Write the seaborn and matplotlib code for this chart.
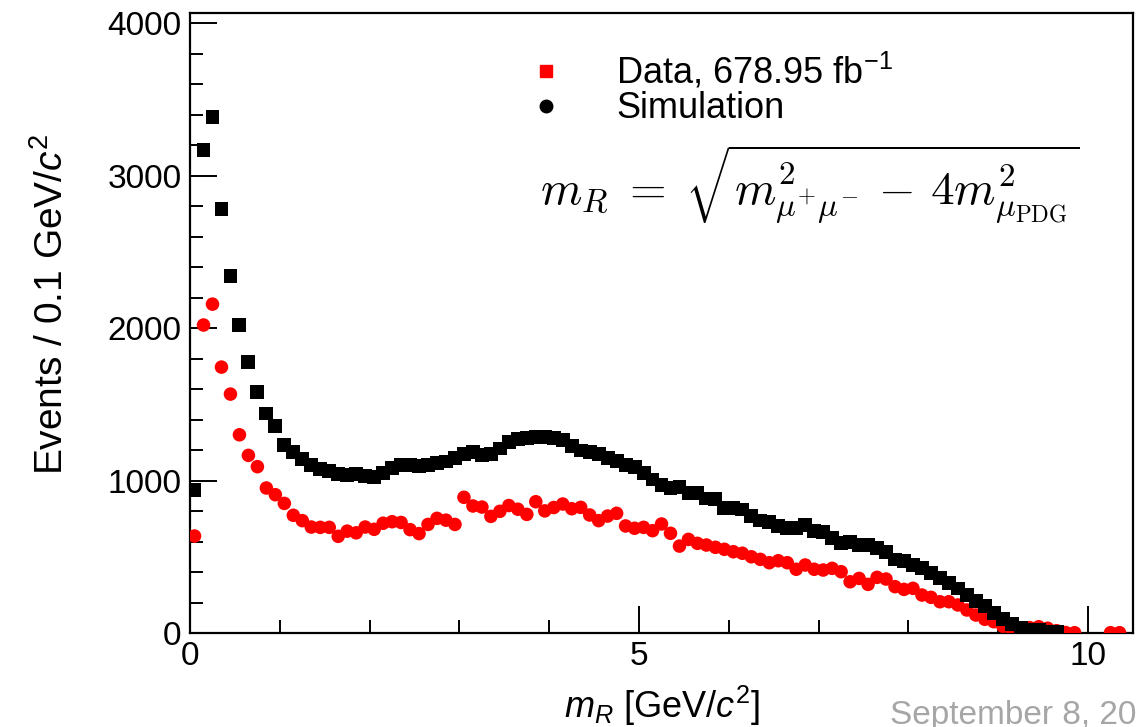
import numpy as np
import pandas as pd
import matplotlib
matplotlib.use("Agg")
import matplotlib.pyplot as plt
from matplotlib.lines import Line2D
from matplotlib.ticker import MultipleLocator
import seaborn as sns

nan = np.nan

# ---------------- data ----------------
sim_centers = [0.05, 0.15, 0.25, 0.35, 0.45, 0.55, 0.65, 0.75, 0.85, 0.95,
               1.05, 1.15, 1.25, 1.35, 1.45, 1.55, 1.65, 1.75, 1.85, 1.95,
               2.05, 2.15, 2.25, 2.35, 2.45, 2.55, 2.65, 2.75, 2.85, 2.95,
               3.05, 3.15, 3.25, 3.35, 3.45, 3.55, 3.65, 3.75, 3.85, 3.95,
               4.05, 4.15, 4.25, 4.35, 4.45, 4.55, 4.65, 4.75, 4.85, 4.95,
               5.05, 5.15, 5.25, 5.35, 5.45, 5.55, 5.65, 5.75, 5.85, 5.95,
               6.05, 6.15, 6.25, 6.35, 6.45, 6.55, 6.65, 6.75, 6.85, 6.95,
               7.05, 7.15, 7.25, 7.35, 7.45, 7.55, 7.65, 7.75, 7.85, 7.95,
               8.05, 8.15, 8.25, 8.35, 8.45, 8.55, 8.65, 8.75, 8.85, 8.95,
               9.05, 9.15, 9.25, 9.35, 9.45, 9.55, 9.65]

sim_events = [940, 3170, 3385, 2780, 2340, 2020, 1775, 1580, 1440, 1360,
              1235, 1185, 1140, 1100, 1075, 1060, 1040, 1035, 1040, 1030,
              1025, 1050, 1080, 1100, 1100, 1095, 1100, 1115, 1125, 1150,
              1175, 1185, 1165, 1175, 1210, 1255, 1275, 1278, 1285, 1285,
              1278, 1265, 1225, 1197, 1188, 1175, 1150, 1130, 1100, 1090,
              1050, 1007, 970, 952, 956, 920, 918, 882, 880, 822,
              820, 810, 766, 738, 729, 700, 690, 690, 711, 670,
              663, 624, 591, 598, 580, 577, 558, 532, 482, 475,
              445, 427, 395, 362, 329, 292, 252, 209, 176, 132,
              89, 60, 34, 19, 18, 5, 4]

data_centers = sim_centers + [9.75, 9.85, 9.95, 10.05, 10.15, 10.25, 10.35]

data_events = [636, 2020, 2157, 1744, 1567, 1300, 1165, 1091, 951, 907,
               850, 772, 737, 695, 693, 693, 634, 668, 657, 695,
               680, 720, 730, 725, 678, 652, 712, 752, 740, 712,
               890, 833, 826, 765, 798, 836, 812, 778, 861, 801,
               823, 846, 815, 824, 774, 737, 767, 785, 702, 687,
               693, 671, 715, 654, 570, 614, 588, 577, 562, 549,
               533, 523, 500, 483, 461, 474, 461, 418, 446, 418,
               413, 424, 402, 336, 358, 319, 365, 354, 304, 286,
               293, 249, 234, 205, 205, 184, 151, 118, 90, 74,
               45, 20, 30, 35, 41, 31, 15, 3, 2, nan, nan, nan, 2, 2]

legend_labels = ["Data, 678.95 fb$^{-1}$", "Simulation"]
x_ticks = [0, 5, 10]
y_ticks = [0, 1000, 2000, 3000, 4000]

df_sim = pd.DataFrame({"m_R": sim_centers, "events": sim_events})
df_data = pd.DataFrame({"m_R": data_centers, "events": data_events}).dropna()

# ---------------- style ----------------
sns.set_style("ticks")
plt.rcParams["font.family"] = ["Liberation Sans", "DejaVu Sans"]
plt.rcParams["mathtext.fontset"] = "custom"
plt.rcParams["mathtext.rm"] = "Liberation Sans"
plt.rcParams["mathtext.it"] = "Liberation Sans:italic"
plt.rcParams["mathtext.bf"] = "Liberation Sans:bold"
plt.rcParams["text.color"] = "black"
plt.rcParams["axes.labelcolor"] = "black"
plt.rcParams["xtick.color"] = "black"
plt.rcParams["ytick.color"] = "black"

fig = plt.figure(figsize=(11.38, 7.27), dpi=100)
ax = fig.add_axes([0.167, 0.1293, 0.8286, 0.8527])

sns.scatterplot(data=df_data, x="m_R", y="events", marker="o", s=95,
                color="#ff0000", edgecolor="none", linewidth=0, ax=ax,
                legend=False, zorder=3)
sns.scatterplot(data=df_sim, x="m_R", y="events", marker="s", s=100,
                color="black", edgecolor="none", linewidth=0, ax=ax,
                legend=False, zorder=4)

ax.set_xlim(0, 10.5)
ax.set_ylim(0, 4066)
ax.set_xticks(x_ticks)
ax.set_yticks(y_ticks)
ax.xaxis.set_minor_locator(MultipleLocator(1))
ax.yaxis.set_minor_locator(MultipleLocator(200))
ax.tick_params(which="both", direction="in", top=False, right=False,
               width=1.4, color="black", labelsize=24, labelcolor="black")
ax.tick_params(which="major", length=19.5)
ax.tick_params(which="minor", length=9.5)
ax.tick_params(axis="y", pad=6)
ax.tick_params(axis="x", pad=6)
for sp in ax.spines.values():
    sp.set_visible(True)
    sp.set_linewidth(1.6)
    sp.set_color("black")

ax.set_xlabel("$m_R$ [GeV/$c^2$]", fontsize=26, color="black")
ax.set_ylabel("Events / 0.1 GeV/$c^2$", fontsize=28, color="black")
ax.xaxis.set_label_coords(0.5, -0.082)
ax.yaxis.set_label_coords(-0.126, 0.53)

handles = [Line2D([], [], marker="s", color="#ff0000", ls="none", markersize=9),
           Line2D([], [], marker="o", color="black", ls="none", markersize=9)]
leg = ax.legend(handles, legend_labels, loc="upper left",
                bbox_to_anchor=(0.343, 0.962),
                frameon=False, fontsize=26, handlelength=1.0, handletextpad=1.45,
                labelspacing=0.0, borderaxespad=0, borderpad=0.4)
for t in leg.get_texts():
    t.set_color("black")

ax.text(0.371, 0.69,
        r"$m_R\;=\;\sqrt{m^2_{\mu^{+}\mu^{-}}\,-\,4m^2_{\mu_{\rm PDG}}}$",
        transform=ax.transAxes, fontsize=34, math_fontfamily="cm",
        ha="left", va="baseline", color="black")

fig.text(0.782, 0.004, "September 8, 2025", color="#a6a6a6", fontsize=24,
         ha="left", va="baseline")

fig.savefig("out.png", dpi=100)
